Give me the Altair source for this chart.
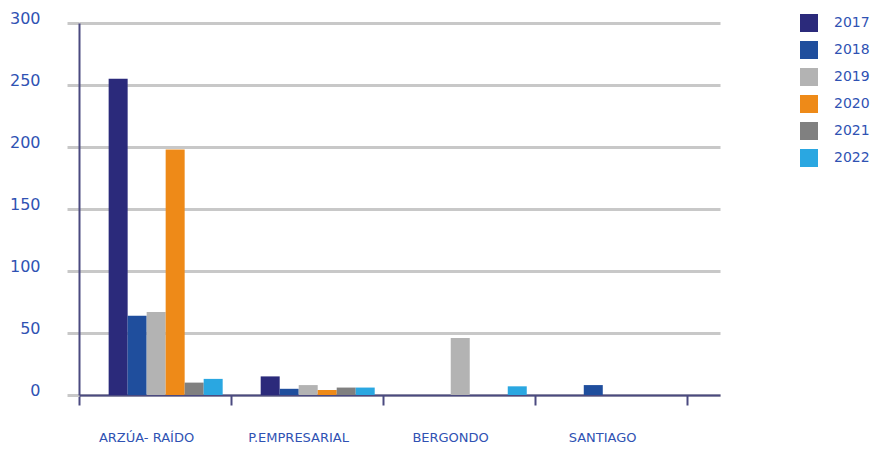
import altair as alt
import pandas as pd

categories = ["ARZÚA- RAÍDO", "P.EMPRESARIAL", "BERGONDO", "SANTIAGO"]
years = ["2017", "2018", "2019", "2020", "2021", "2022"]
colors = ["#2b2a7b", "#1f4e9d", "#b3b3b3", "#ee8a18", "#808080", "#2aa7e1"]

# values per year, in category order (None = no bar)
v2017 = [255, 15, None, None]
v2018 = [64, 5, None, 8]
v2019 = [67, 8, 46, None]
v2020 = [198, 4, None, None]
v2021 = [10, 6, None, None]
v2022 = [13, 6, 7, None]

series = [v2017, v2018, v2019, v2020, v2021, v2022]
rows = []
for y, vals in zip(years, series):
    for c, v in zip(categories, vals):
        if v is not None:
            rows.append({"cat": c, "year": y, "value": v})
df = pd.DataFrame(rows)

text_color = "#2f52b3"
axis_color = "#4b4a80"
font = "DejaVu Sans"

chart = alt.Chart(df).mark_bar().encode(
    x=alt.X("cat:N", sort=categories, title=None,
            scale=alt.Scale(domain=categories, paddingInner=0, paddingOuter=0.108, align=0),
            axis=alt.Axis(labelAngle=0, tickBand="extent", tickSize=10, tickWidth=2,
                          tickColor=axis_color, domainColor=axis_color, domainWidth=2,
                          labelPadding=26, labelOffset=-9, labelFontSize=13,
                          labelColor=text_color, labelFont=font, grid=False)),
    xOffset=alt.XOffset("year:N", sort=years,
                        scale=alt.Scale(domain=years, paddingInner=0, paddingOuter=1, align=0.78)),
    y=alt.Y("value:Q", title=None,
            scale=alt.Scale(domain=[0, 300], nice=False),
            axis=alt.Axis(values=[0, 50, 100, 150, 200, 250, 300], grid=True,
                          gridColor="#c8c8c8", gridWidth=3,
                          tickColor="#c8c8c8", tickSize=12, tickWidth=3,
                          domainColor=axis_color, domainWidth=2,
                          labelPadding=27, labelOffset=-5, labelFontSize=16,
                          labelColor=text_color, labelFont=font)),
    color=alt.Color("year:N", sort=years, title=None,
                    scale=alt.Scale(domain=years, range=colors),
                    legend=alt.Legend(orient="none", legendX=721, legendY=-9,
                                      symbolType="square", symbolSize=324,
                                      symbolStrokeWidth=0, symbolOpacity=1,
                                      rowPadding=9, labelOffset=16, labelFontSize=14,
                                      labelColor=text_color, labelFont=font, padding=0)),
).properties(
    width=641, height=372,
    autosize=alt.AutoSizeParams(type="none"),
    padding={"left": 71, "top": 15, "right": 150, "bottom": 50},
).configure_view(stroke=None)

chart.save("out.html", embed_options={"renderer": "svg", "actions": False})
